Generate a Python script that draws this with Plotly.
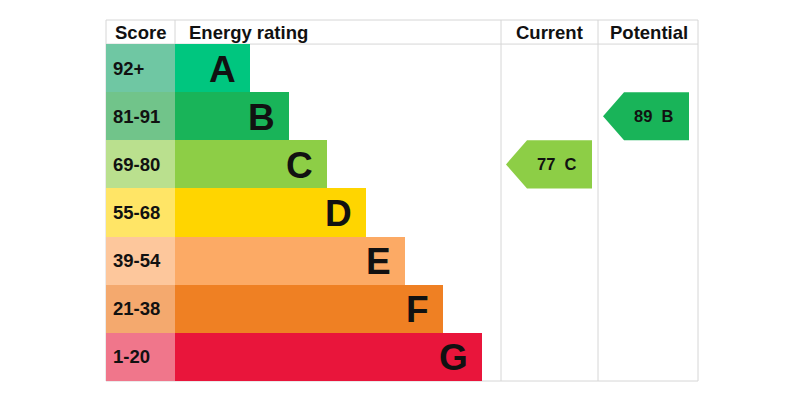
import plotly.graph_objects as go

# ---- data ----
bands = ["A", "B", "C", "D", "E", "F", "G"]
score_labels = ["92+", "81-91", "69-80", "55-68", "39-54", "21-38", "1-20"]
band_min = [92, 81, 69, 55, 39, 21, 1]
band_rank = [1, 2, 3, 4, 5, 6, 7]
bar_colors = ["#00c67f", "#19b459", "#8dce46", "#ffd500", "#fcaa65", "#ef8023", "#e9153b"]
cell_colors = ["#6fc7a3", "#71c48a", "#bae08e", "#ffe566", "#fdc79c", "#f4a96e", "#f0768b"]
headers = ["Score", "Energy rating", "Current", "Potential"]
current_score = 77
potential_score = 89

FONT = "Liberation Sans, Arial, sans-serif"
TXT = "#111111"
GRID = "#d6d6d6"

# page body has an 8px margin: the figure covers window pixels 8..792 / 8..390
OFF = 8
W, H = 800 - 2 * OFF, 398 - 2 * OFF

# column edges (window pixels on the x axis)
col_edges = [106, 175, 501, 598, 698]
ROW_PX = 48.14
PX0, PX_PER_RANK = 211.33, 38.67


def band_of(score):
    for i, m in enumerate(band_min):
        if score >= m:
            return i
    return len(band_min) - 1


rows = list(range(len(bands)))

fig = go.Figure()

# score cells
fig.add_trace(go.Bar(
    orientation="h", y=rows, x=[col_edges[1] - col_edges[0]] * len(rows),
    base=col_edges[0], width=1, marker=dict(color=cell_colors, line=dict(width=0)),
    xaxis="x", yaxis="y", hoverinfo="skip", showlegend=False))

# rating bars on the rank axis
fig.add_trace(go.Bar(
    orientation="h", y=rows, x=[r + 0.94 for r in band_rank], base=-0.94, width=1,
    marker=dict(color=bar_colors, line=dict(width=0)),
    xaxis="x2", yaxis="y", hoverinfo="skip", showlegend=False))

ann = []
# header
ann.append(dict(x=(col_edges[0] + col_edges[1]) / 2, y=-0.75, text=headers[0], xanchor="center"))
ann.append(dict(x=col_edges[1] + 12, y=-0.75, text=headers[1], xanchor="left"))
ann.append(dict(x=(col_edges[2] + col_edges[3]) / 2, y=-0.75, text=headers[2], xanchor="center"))
ann.append(dict(x=(col_edges[3] + col_edges[4]) / 2 + 1, y=-0.75, text=headers[3], xanchor="center"))
for a in ann:
    a.update(xref="x", yref="y", showarrow=False, yanchor="middle",
             font=dict(family=FONT, size=18.5, color=TXT, weight="bold"))

# score labels
for i, lab in enumerate(score_labels):
    ann.append(dict(x=col_edges[0] + 5, y=i, text=lab, xref="x", yref="y", xanchor="left",
                    yanchor="middle", showarrow=False,
                    font=dict(family=FONT, size=18.5, color=TXT, weight="bold")))

# band letters
for i, (b, r) in enumerate(zip(bands, band_rank)):
    ann.append(dict(x=r, y=i + 0.02, text=b, xref="x2", yref="y", xanchor="right",
                    yanchor="middle", xshift=-12, showarrow=False,
                    font=dict(family=FONT, size=37, color=TXT, weight="bold")))

shapes = []
# grid lines
for xe in col_edges:
    shapes.append(dict(type="line", xref="x", yref="y", x0=xe, x1=xe, y0=-1, y1=6.5,
                       line=dict(color=GRID, width=1), layer="below"))
for ye in (-1, -0.5, 6.5):
    shapes.append(dict(type="line", xref="x", yref="y", x0=col_edges[0], x1=col_edges[-1],
                       y0=ye, y1=ye, line=dict(color=GRID, width=1), layer="below"))


def arrow(col_left, score):
    r = band_of(score)
    tip = col_left + 5
    sh = tip + 21
    right = col_left + 91
    path = (f"M {tip},{r} L {sh},{r - 0.5} L {right},{r - 0.5} "
            f"L {right},{r + 0.5} L {sh},{r + 0.5} Z")
    shapes.append(dict(type="path", xref="x", yref="y", path=path,
                       fillcolor=bar_colors[r], line=dict(width=0), layer="above"))
    ann.append(dict(x=tip + 51, y=r, text=f"{score}\u00a0\u00a0{bands[r]}", xref="x", yref="y",
                    xanchor="center", yanchor="middle", showarrow=False,
                    font=dict(family=FONT, size=16.5, color=TXT, weight="bold")))


arrow(col_edges[2], current_score)
arrow(col_edges[3], potential_score)

# y: row i centred at window pixel 44 + ROW_PX*(i+0.5); header top = -1 (pixel 20)
y_top = -1 - (20 - OFF) / ROW_PX
y_bot = 6.5 + (OFF + H - 381) / ROW_PX

fig.update_layout(
    width=W, height=H, margin=dict(l=0, r=0, t=0, b=0),
    paper_bgcolor="white", plot_bgcolor="white",
    xaxis=dict(range=[OFF, OFF + W], visible=False, fixedrange=True),
    xaxis2=dict(range=[(OFF - PX0) / PX_PER_RANK, (OFF + W - PX0) / PX_PER_RANK],
                overlaying="x", visible=False, fixedrange=True),
    yaxis=dict(range=[y_bot, y_top], visible=False, fixedrange=True),
    barmode="overlay", bargap=0,
    shapes=shapes, annotations=ann,
)

fig.write_html("out.html")
